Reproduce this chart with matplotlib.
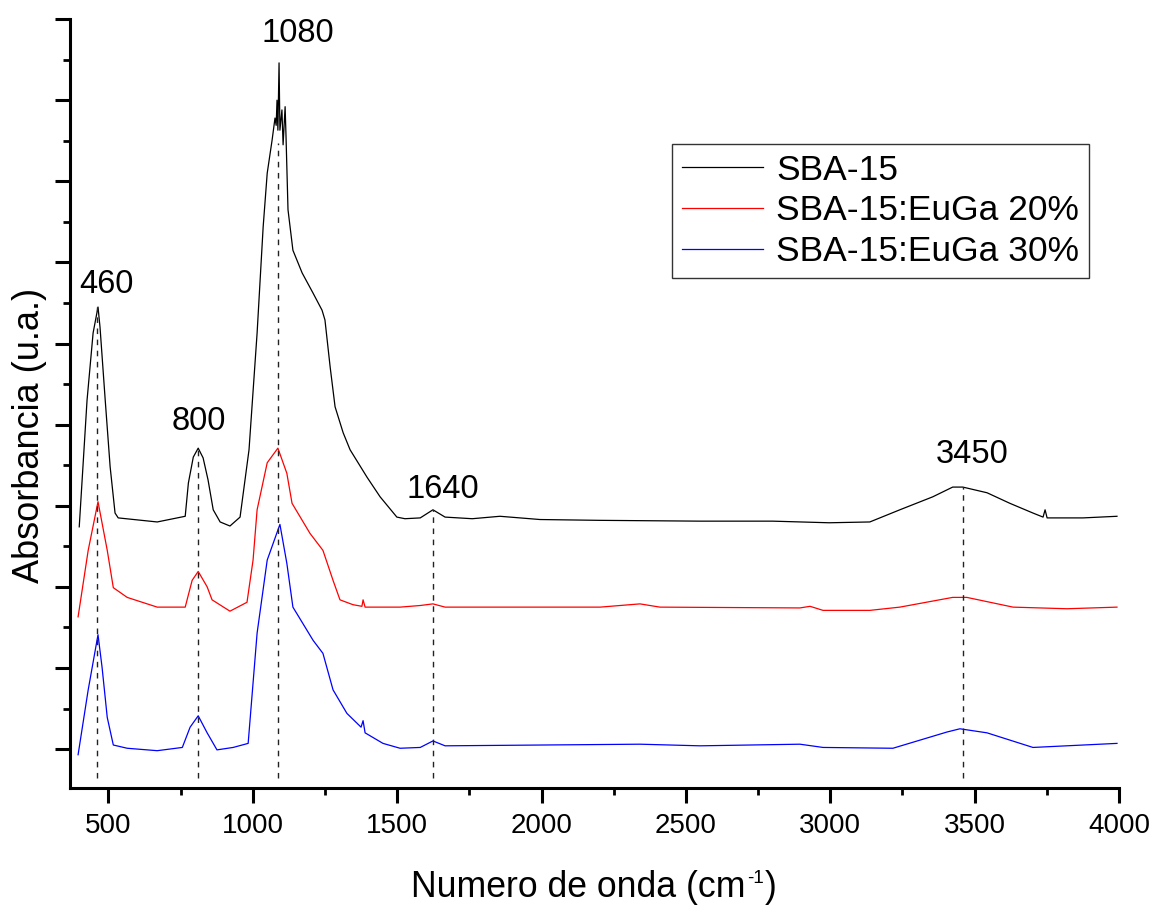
import numpy as np
import matplotlib.pyplot as plt
from matplotlib.ticker import MultipleLocator, AutoMinorLocator

plt.rcParams['font.family'] = ['Liberation Sans', 'DejaVu Sans']

# SBA-15 (black), vertically offset spectrum
sba_x = [399, 426, 447, 464, 471, 489, 506, 523, 534, 669, 766, 777, 794, 811, 828,
         845, 863, 887, 921, 956, 987, 1015, 1036, 1050, 1067, 1077, 1081, 1084, 1087,
         1091, 1094, 1101, 1105, 1112, 1115, 1122, 1139, 1171, 1209, 1240, 1250, 1268,
         1285, 1313, 1337, 1396, 1441, 1499, 1527, 1580, 1624, 1666, 1760, 1856, 1995,
         2200, 2549, 2800, 2996, 3137, 3241, 3355, 3424, 3459, 3543, 3622, 3702, 3737,
         3744, 3751, 3875, 3993]
sba_y = [2.74, 4.30, 5.13, 5.45, 5.20, 4.30, 3.48, 2.91, 2.85, 2.80, 2.87, 3.28, 3.60,
         3.71, 3.59, 3.32, 2.95, 2.80, 2.75, 2.86, 3.69, 5.13, 6.44, 7.10, 7.51, 7.78,
         7.69, 8.00, 7.63, 8.46, 7.63, 7.88, 7.45, 7.92, 7.57, 6.65, 6.15, 5.87, 5.62,
         5.41, 5.29, 4.71, 4.22, 3.90, 3.69, 3.35, 3.11, 2.86, 2.84, 2.85, 2.95, 2.86,
         2.84, 2.87, 2.83, 2.82, 2.81, 2.81, 2.79, 2.80, 2.95, 3.11, 3.23, 3.23, 3.16,
         3.03, 2.91, 2.86, 2.95, 2.85, 2.85, 2.87]

# SBA-15:EuGa 20% (red)
eu20_x = [395, 430, 464, 496, 517, 565, 669, 766, 790, 811, 842, 859, 921, 980, 1001,
          1015, 1050, 1087, 1118, 1136, 1198, 1243, 1278, 1302, 1347, 1378, 1382, 1389,
          1510, 1580, 1624, 1666, 2203, 2341, 2410, 2895, 2930, 2975, 3137, 3241, 3424,
          3473, 3633, 3820, 3993]
eu20_y = [1.63, 2.45, 3.05, 2.45, 1.99, 1.87, 1.75, 1.75, 2.08, 2.19, 2.00, 1.84, 1.70,
          1.81, 2.33, 2.95, 3.53, 3.71, 3.40, 3.03, 2.66, 2.45, 2.08, 1.84, 1.78, 1.76,
          1.84, 1.75, 1.75, 1.77, 1.79, 1.75, 1.75, 1.79, 1.75, 1.74, 1.76, 1.71, 1.71,
          1.75, 1.87, 1.87, 1.75, 1.73, 1.75]

# SBA-15:EuGa 30% (blue)
eu30_x = [395, 430, 464, 478, 496, 517, 565, 669, 756, 783, 811, 842, 876, 932, 984,
          1015, 1050, 1094, 1118, 1139, 1209, 1243, 1278, 1326, 1375, 1382, 1389, 1451,
          1510, 1580, 1624, 1666, 2341, 2549, 2895, 2975, 3217, 3404, 3449, 3543, 3702,
          3993]
eu30_y = [-0.07, 0.73, 1.41, 1.01, 0.39, 0.05, 0.01, -0.02, 0.02, 0.27, 0.41, 0.20,
          -0.01, 0.02, 0.07, 1.43, 2.33, 2.77, 2.29, 1.75, 1.34, 1.18, 0.73, 0.44, 0.27,
          0.35, 0.20, 0.07, 0.01, 0.02, 0.10, 0.04, 0.06, 0.04, 0.06, 0.02, 0.01, 0.21,
          0.25, 0.20, 0.02, 0.07]

series_names = ['SBA-15', 'SBA-15:EuGa 20%', 'SBA-15:EuGa 30%']
series_colors = ['black', '#ff0000', '#0000ff']

# marked bands: line position, top of dashed line, label text, label position
peak_pos = [461, 811, 1088, 1624, 3460]
peak_top = [5.45, 3.71, 7.47, 2.95, 3.23]
peak_text = ['460', '800', '1080', '1640', '3450']
peak_text_x = [492, 812, 1155, 1659, 3490]
peak_text_y = [5.62, 3.93, 8.72, 3.09, 3.53]

fig = plt.figure(figsize=(11.53, 9.06), dpi=100)
ax = fig.add_axes((70 / 1153, 1 - 788 / 906, 1049 / 1153, 769 / 906))

for xs, ys, name, c in zip((sba_x, eu20_x, eu30_x), (sba_y, eu20_y, eu30_y),
                           series_names, series_colors):
    ax.plot(xs, ys, color=c, lw=0.9, label=name)

for px, top in zip(peak_pos, peak_top):
    ax.plot([px, px], [-0.36, top], color='#222222', lw=1.0, ls=(0, (4, 4)))

for tx, ty, t in zip(peak_text_x, peak_text_y, peak_text):
    ax.text(tx, ty, t, ha='center', va='baseline', fontsize=23.5)

ax.set_xlim(367, 4000)
ax.set_ylim(-0.48, 9.001)
ax.xaxis.set_major_locator(MultipleLocator(500))
ax.xaxis.set_minor_locator(AutoMinorLocator(2))
ax.yaxis.set_major_locator(MultipleLocator(1))
ax.yaxis.set_minor_locator(AutoMinorLocator(2))
ax.set_yticklabels([])

for side in ('top', 'right'):
    ax.spines[side].set_visible(False)
for side in ('left', 'bottom'):
    ax.spines[side].set_linewidth(2.2)
ax.tick_params(which='major', direction='out', length=11, width=2.2, labelsize=20, pad=7)
ax.tick_params(which='minor', direction='out', length=5, width=2.0)

# x label with a small hyphen superscript, as in the original
xl = fig.text(411 / 1153, 1 - 905 / 906, 'Numero de onda (cm', fontsize=25.7,
              ha='left', va='bottom')
sup = ax.annotate('-1', xy=(1, 0), xycoords=xl, xytext=(1, 13),
                  textcoords='offset points', fontsize=13.5, ha='left', va='bottom')
ax.annotate(')', xy=(1, 0), xycoords=sup, xytext=(1, -13),
            textcoords='offset points', fontsize=25.7, ha='left', va='bottom')

ax.set_ylabel('Absorbancia (u.a.)', fontsize=26)
ax.yaxis.set_label_coords(-0.022, 0.459)

leg = ax.legend(loc='upper left', bbox_to_anchor=(672 / 1153, 1 - 144 / 906),
                bbox_transform=fig.transFigure, borderaxespad=0, fontsize=25.5,
                handlelength=2.3, handletextpad=0.38, labelspacing=0.22,
                borderpad=0.27, fancybox=False, framealpha=1)
leg.get_frame().set_edgecolor('#333333')
leg.get_frame().set_linewidth(1.0)

fig.savefig('out.png', dpi=100, facecolor='white')
